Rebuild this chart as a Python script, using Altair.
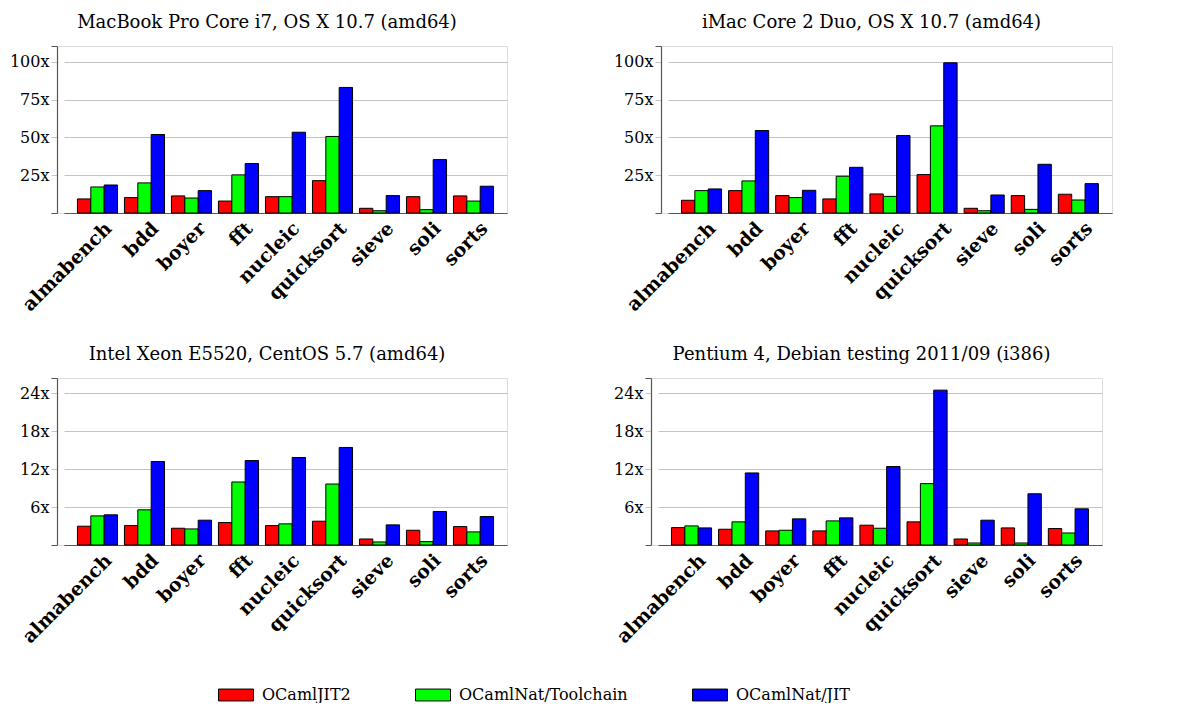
import altair as alt
import pandas as pd

benchmarks = ["almabench", "bdd", "boyer", "fft", "nucleic", "quicksort", "sieve", "soli", "sorts"]
series = ["OCamlJIT2", "OCamlNat/Toolchain", "OCamlNat/JIT"]
colors = ["#ff0000", "#00ff00", "#0000ff"]

# MacBook Pro Core i7, OS X 10.7 (amd64)
macbook_jit2 = [9.3, 10.2, 11.3, 7.9, 10.8, 21.4, 3.1, 10.8, 11.3]
macbook_toolchain = [17.2, 19.9, 9.9, 25.2, 10.8, 50.6, 1.5, 2.2, 7.9]
macbook_natjit = [18.5, 51.9, 14.8, 32.7, 53.4, 83.0, 11.5, 35.3, 17.7]

# iMac Core 2 Duo, OS X 10.7 (amd64)
imac_jit2 = [8.4, 14.8, 11.5, 9.3, 12.6, 25.4, 3.1, 11.5, 12.4]
imac_toolchain = [14.8, 21.2, 10.2, 24.3, 11.0, 57.6, 1.5, 2.4, 8.6]
imac_natjit = [15.9, 54.5, 15.0, 30.2, 51.2, 99.3, 11.9, 32.2, 19.4]

# Intel Xeon E5520, CentOS 5.7 (amd64)
xeon_jit2 = [2.97, 3.07, 2.65, 3.55, 3.07, 3.76, 0.95, 2.33, 2.91]
xeon_toolchain = [4.6, 5.56, 2.54, 9.96, 3.34, 9.64, 0.48, 0.53, 2.07]
xeon_natjit = [4.77, 13.2, 3.92, 13.35, 13.83, 15.42, 3.18, 5.3, 4.5]

# Pentium 4, Debian testing 2011/09 (i386)
p4_jit2 = [2.75, 2.49, 2.23, 2.23, 3.13, 3.66, 0.95, 2.7, 2.6]
p4_toolchain = [3.02, 3.66, 2.33, 3.81, 2.65, 9.7, 0.32, 0.32, 1.9]
p4_natjit = [2.7, 11.39, 4.13, 4.29, 12.4, 24.48, 3.92, 8.1, 5.72]

FONT = "DejaVu Serif"
legend_path = "M-1,-0.34L1,-0.34L1,0.34L-1,0.34Z"


def panel(title, jit2, tool, natjit, ymax, step, width):
    rows = []
    for s, vals in zip(series, [jit2, tool, natjit]):
        for b, v in zip(benchmarks, vals):
            rows.append({"bench": b, "series": s, "value": v})
    df = pd.DataFrame(rows)
    tick_vals = [0, step, 2 * step, 3 * step, 4 * step, ymax]
    thresh = 4 * step + step * 0.3
    yaxis = alt.Axis(
        values=tick_vals,
        title=None,
        labelExpr=f"(datum.value > 0 && datum.value < {thresh}) ? datum.value + 'x' : ''",
        labelFont=FONT,
        labelFontSize=16,
        labelColor="black",
        labelPadding=2,
        tickSize=6,
        tickColor={"condition": {"test": f"datum.value == 0 || datum.value > {thresh}", "value": "#555555"}, "value": "#c4c4c4"},
        gridColor={"condition": {"test": f"datum.value > {thresh}", "value": "transparent"}, "value": "#c4c4c4"},
        grid=True,
        domainColor="#555555",
        domainWidth=1.2,
    )
    xaxis = alt.Axis(
        title=None,
        labelAngle=-45,
        labelAlign="right",
        labelBaseline="middle",
        labelFont=FONT,
        labelFontWeight="bold",
        labelFontSize=19,
        labelColor="black",
        labelPadding=12,
        labelOffset=11,
        ticks=False,
        grid=False,
        domainColor="#555555",
        domainWidth=1.2,
    )
    return (
        alt.Chart(df)
        .mark_bar(stroke="black", strokeWidth=1)
        .encode(
            x=alt.X("bench:N", sort=benchmarks, axis=xaxis,
                    scale=alt.Scale(range=[7, width], paddingInner=0.147, paddingOuter=0.286)),
            xOffset=alt.XOffset("series:N", sort=series, scale=alt.Scale(paddingInner=0, paddingOuter=0)),
            y=alt.Y("value:Q", scale=alt.Scale(domain=[0, ymax], nice=False), axis=yaxis),
            color=alt.Color(
                "series:N",
                sort=series,
                scale=alt.Scale(domain=series, range=colors),
                legend=alt.Legend(
                    title=None,
                    orient="none",
                    legendX=161,
                    legendY=631,
                    direction="horizontal",
                    columns=3,
                    symbolType=legend_path,
                    symbolSize=1225,
                    symbolStrokeColor="black",
                    symbolStrokeWidth=1,
                    symbolOpacity=1,
                    labelFont=FONT,
                    labelFontSize=16,
                    labelColor="black",
                    labelOffset=8,
                    labelLimit=400,
                    columnPadding=62,
                    padding=0,
                ),
            ),
        )
        .properties(
            width=width,
            height=167,
            title=alt.TitleParams(title, font=FONT, fontSize=18, fontWeight="normal",
                                  color="black", anchor="middle", dx=-15, offset=14),
        )
    )


p1 = panel("MacBook Pro Core i7, OS X 10.7 (amd64)", macbook_jit2, macbook_toolchain, macbook_natjit, 110.4, 25, 450)
p2 = panel("iMac Core 2 Duo, OS X 10.7 (amd64)", imac_jit2, imac_toolchain, imac_natjit, 110.4, 25, 451)
p3 = panel("Intel Xeon E5520, CentOS 5.7 (amd64)", xeon_jit2, xeon_toolchain, xeon_natjit, 26.4, 6, 450)
p4 = panel("Pentium 4, Debian testing 2011/09 (i386)", p4_jit2, p4_toolchain, p4_natjit, 26.4, 6, 451)

chart = (
    alt.vconcat(
        alt.hconcat(p1, p2, spacing=104),
        alt.hconcat(p3, p4, spacing=104),
        spacing=30,
    )
    .properties(padding={"left": 0, "top": 5, "right": 5, "bottom": 0})
    .configure_view(stroke=None)
    .configure(background="white")
)

chart.save("out.html", embed_options={"renderer": "svg", "actions": False})
